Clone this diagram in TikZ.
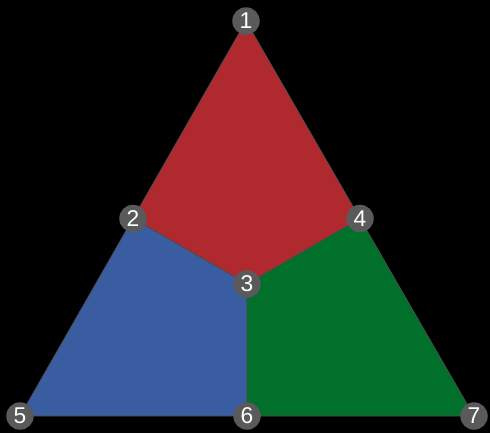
\documentclass[tikz,border=0pt]{standalone}
\usepackage{fontspec}
\setmainfont{Liberation Sans}
\definecolor{regred}{HTML}{B0292E}
\definecolor{regblue}{HTML}{3A5CA0}
\definecolor{reggreen}{HTML}{00702A}
\definecolor{dotgray}{HTML}{5A5A5A}
\begin{document}
\begin{tikzpicture}[x=0.02cm, y=-0.02cm,
    region/.style={draw=gray!60!black, line width=0.4pt},
    vtx/.style={circle, fill=dotgray, text=white, inner sep=0pt, minimum size=0.55cm, font=\fontsize{13}{13}\selectfont}]
  \fill[black] (0,0) rectangle (490,433);
  \useasboundingbox (0,0) rectangle (490,433);
  \coordinate (c1) at (246,21);
  \coordinate (c2) at (133,218.5);
  \coordinate (c3) at (247,284);
  \coordinate (c4) at (360,218.5);
  \coordinate (c5) at (20,416);
  \coordinate (c6) at (247,416);
  \coordinate (c7) at (474,416);
  \fill[regred, region] (c1) -- (c2) -- (c3) -- (c4) -- cycle;
  \fill[regblue, region] (c2) -- (c3) -- (c6) -- (c5) -- cycle;
  \fill[reggreen, region] (c4) -- (c3) -- (c6) -- (c7) -- cycle;
  \foreach \i in {1,...,7}
    \node[vtx] (n\i) at (c\i) {\i};
\end{tikzpicture}
\end{document}
